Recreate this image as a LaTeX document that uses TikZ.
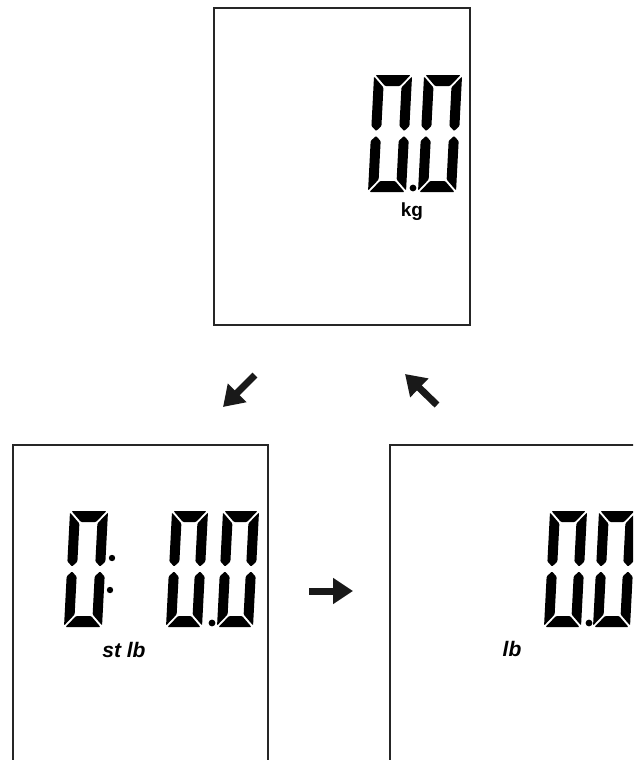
\documentclass[tikz,border=0pt]{standalone}
\usepackage{fontspec}
\setmainfont{Liberation Sans}
\usetikzlibrary{arrows.meta}
\tikzset{
  panel/.style={draw=black!85, line width=1.6pt},
  seg/.style={fill=black, draw=none, rounded corners=1pt},
  dp/.style={fill=black, draw=none},
  unit/.style={inner sep=0pt, font=\bfseries\fontsize{19}{19}\selectfont},
  uniti/.style={inner sep=0pt, font=\bfseries\itshape\fontsize{21}{21}\selectfont},
  bigarrow/.style={line width=7pt, draw=black!90, -{Triangle[length=20pt,width=25pt]}},
}
% seven segment "0": #1 x of bottom-left, #2 y of bottom (down axis), #3 width, #4 height
\newcommand{\segzero}[4]{%
\begin{scope}[shift={(#1,#2)}, x={(1pt,0pt)}, y={(0.052pt,1pt)}]
  \def\dt{10}\def\dh{11}\def\dg{1.5}\def\dm{2.5}
  % top
  \fill[seg] (\dg,#4) -- ({#3-\dg},#4) -- ({#3-\dt-\dg},{#4-\dh}) -- ({\dt+\dg},{#4-\dh}) -- cycle;
  % bottom
  \fill[seg] (\dg,0) -- ({#3-\dg},0) -- ({#3-\dt-\dg},\dh) -- ({\dt+\dg},\dh) -- cycle;
  % upper left
  \fill[seg] (0,{#4-\dg}) -- (\dt,{#4-\dh-\dg}) -- (\dt,{#4/2+\dm+\dt/2}) -- ({\dt/2},{#4/2+\dm}) -- (0,{#4/2+\dm+\dt/2}) -- cycle;
  % upper right
  \fill[seg] (#3,{#4-\dg}) -- ({#3-\dt},{#4-\dh-\dg}) -- ({#3-\dt},{#4/2+\dm+\dt/2}) -- ({#3-\dt/2},{#4/2+\dm}) -- (#3,{#4/2+\dm+\dt/2}) -- cycle;
  % lower left
  \fill[seg] (0,\dg) -- (\dt,{\dh+\dg}) -- (\dt,{#4/2-\dm-\dt/2}) -- ({\dt/2},{#4/2-\dm}) -- (0,{#4/2-\dm-\dt/2}) -- cycle;
  % lower right
  \fill[seg] (#3,\dg) -- ({#3-\dt},{\dh+\dg}) -- ({#3-\dt},{#4/2-\dm-\dt/2}) -- ({#3-\dt/2},{#4/2-\dm}) -- (#3,{#4/2-\dm-\dt/2}) -- cycle;
\end{scope}}
\begin{document}
\begin{tikzpicture}[x=1pt,y=-1pt]
\clip (0,0) rectangle (633,760);
\fill[white] (0,0) rectangle (633,760);
% panels
\draw[panel] (214,8) rectangle (470,325);
\draw[panel] (13,445) rectangle (268,780);
\draw[panel] (390,445) rectangle (660,780);
% top panel display 0.0 kg
\segzero{368}{192}{38}{117}
\segzero{418}{192}{38}{117}
\fill[dp] (413,188) circle (3.4);
\node[unit] (kg) at (412,212) {kg};
% bottom left display 0: 0.0 st lb
\segzero{64}{627}{38}{116}
\fill[dp] (112,558) circle (3.2);
\fill[dp] (110,590) circle (3.2);
\segzero{166}{627}{36}{116}
\segzero{217}{627}{36}{116}
\fill[dp] (212,623) circle (3.4);
\node[uniti] (stlb) at (124,650) {st lb};
% bottom right display 0.0 lb
\segzero{544}{627}{37}{116}
\segzero{593}{627}{37}{116}
\fill[dp] (589,623) circle (3.4);
\node[uniti] (lb) at (512,649) {lb};
% arrows
\coordinate (a1s) at (255,375);
\coordinate (a1e) at (223,407);
\coordinate (a2s) at (437,405);
\coordinate (a2e) at (405,374);
\coordinate (a3s) at (309,591);
\coordinate (a3e) at (353,591);
\draw[bigarrow] (a1s) -- (a1e);
\draw[bigarrow] (a2s) -- (a2e);
\draw[bigarrow] (a3s) -- (a3e);
\end{tikzpicture}
\end{document}
